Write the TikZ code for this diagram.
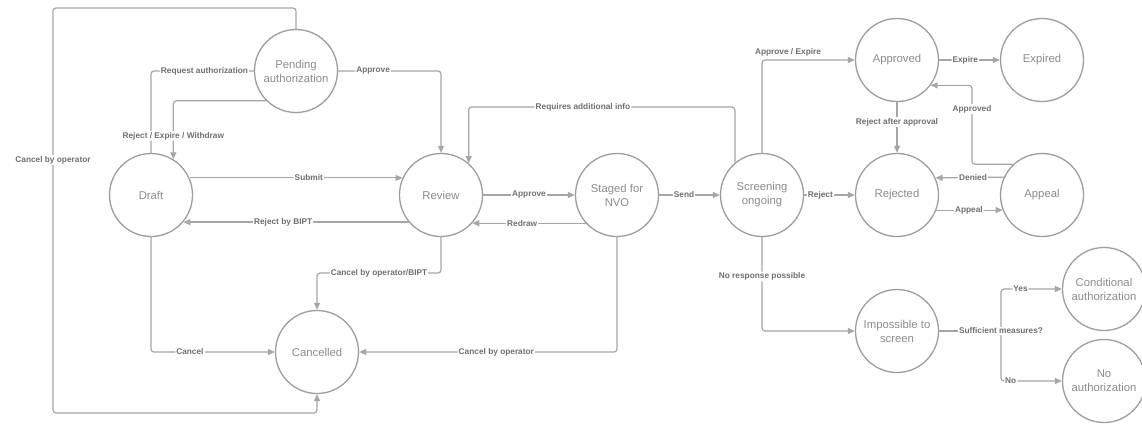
\documentclass[tikz,border=0pt]{standalone}
\usepackage{fontspec}
\setmainfont{Liberation Sans}
\usetikzlibrary{arrows.meta}
\definecolor{linecol}{HTML}{A6A6A6}
\definecolor{circcol}{HTML}{9E9E9E}
\definecolor{nodetxt}{HTML}{8C8C8C}
\definecolor{lbltxt}{HTML}{707070}
\tikzset{
  state/.style={circle, draw=circcol, line width=1.3pt, minimum size=83pt, inner sep=0pt,
    align=center, text=nodetxt, font=\fontsize{11.3}{14}\selectfont},
  conn/.style={draw=linecol, line width=1.2pt, rounded corners=3pt},
  arr/.style={conn, -{Triangle[length=7pt,width=6pt]}},
  lbl/.style={fill=white, inner sep=1pt, text=lbltxt, font=\fontsize{8.3}{10}\selectfont\bfseries},
  lblnf/.style={inner sep=1pt, text=lbltxt, font=\fontsize{8.3}{10}\selectfont\bfseries}
}
\begin{document}
\begin{tikzpicture}[x=1pt,y=-1pt]
\useasboundingbox (0,0) rectangle (1142,423);
\fill[white] (0,0) rectangle (1142,423);

% states
\node[state] (pend) at (296,71) {Pending\\authorization};
\node[state] (draft) at (151,195) {Draft};
\node[state] (review) at (441,195) {Review};
\node[state] (staged) at (617,195) {Staged for\\NVO};
\node[state] (screen) at (762,195) {Screening\\ongoing};
\node[state] (approved) at (897,60) {Approved};
\node[state] (expired) at (1042,60) {Expired};
\node[state] (rejected) at (897,195) {Rejected};
\node[state] (appeal) at (1042,195) {Appeal};
\node[state] (imposs) at (897,331) {Impossible to\\screen};
\node[state] (cond) at (1104,289) {Conditional\\authorization};
\node[state] (noauth) at (1104,381) {No\\authorization};
\node[state] (cancelled) at (317,352) {Cancelled};

% helper coordinates
\coordinate (pl) at (53,8);
\coordinate (pb) at (53,413);
\coordinate (rc) at (441,273);
\coordinate (rq) at (583,107);
\coordinate (ap) at (972,109);
\coordinate (split) at (1001,331);

% connectors
\draw[arr] (pend.north) |- (pl) -- node[lbl, pos=0.375]{Cancel by operator} (pb) -| (cancelled.south);
\draw[conn] (draft.north) |- node[lbl, pos=0.76]{Request authorization} (pend.west);
\draw[arr] (pend.south west) -| node[lbl, pos=0.8]{Reject / Expire / Withdraw} (draft.58);
\draw[arr] (pend.east) -| node[lbl, pos=0.17]{Approve} (review.north);
\draw[arr] (draft.24) -- node[lbl, pos=0.56]{Submit} (review.156);
\draw[arr] (review.220.6) -- node[lbl, pos=0.557]{Reject by BIPT} (draft.-40.6);
\draw[arr] (review.south) -- (rc) -| node[lbl, pos=0.25]{Cancel by operator/BIPT} (cancelled.north);
\draw[arr] (draft.south) |- node[lbl, pos=0.657]{Cancel} (cancelled.west);
\draw[arr] (staged.south) |- node[lbl, pos=0.734]{Cancel by operator} (cancelled.east);
\draw[arr] (review.east) -- node[lbl, pos=0.5]{Approve} (staged.west);
\draw[arr] (staged.222.4) -- node[lbl, pos=0.56]{Redraw} (review.-42.4);
\draw[arr] (staged.east) -- node[lbl, pos=0.41]{Send} (screen.west);
\draw[arr] (screen.130.6) |- (rq) node[lbl]{Requires additional info} -| (review.49.4);
\draw[arr] (screen.north) |- node[lblnf, pos=0.64, above=2pt]{Approve / Expire} (approved.west);
\draw[arr] (approved.east) -- node[lbl, pos=0.43]{Expire} (expired.west);
\draw[arr] (approved.south) -- node[lbl, pos=0.39]{Reject after approval} (rejected.north);
\draw[arr] (screen.east) -- node[lbl, pos=0.32]{Reject} (rejected.west);
\draw[arr] (appeal.133.7) -| (ap) node[lbl]{Approved} |- (approved.-37);
\draw[arr] (appeal.155.8) -- node[lbl, pos=0.45]{Denied} (rejected.24.2);
\draw[arr] (rejected.-21.2) -- node[lbl, pos=0.49]{Appeal} (appeal.201.2);
\draw[arr] (screen.south) |- node[lbl, pos=0.21]{No response possible} (imposs.west);
\draw[arr] (split) |- node[lbl, pos=0.66]{Yes} (cond.west);
\draw[arr] (split) |- node[lbl, pos=0.58]{No} (noauth.west);
\draw[conn] (imposs.east) -- (split) node[lbl]{Sufficient measures?};
\end{tikzpicture}
\end{document}
